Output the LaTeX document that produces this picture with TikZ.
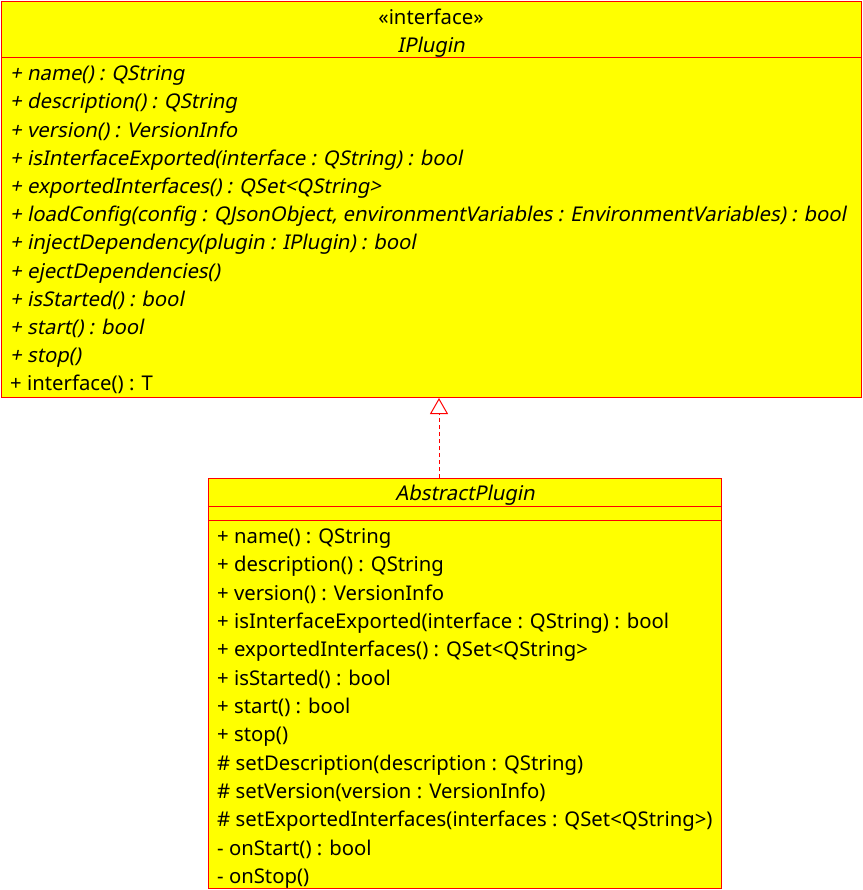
\documentclass[tikz,border=0pt]{standalone}
\usepackage{fontspec}
\setmainfont{Noto Sans}
\newfontfamily\obliquefont[FakeSlant=0.2]{Noto Sans}
\usetikzlibrary{arrows.meta}
\definecolor{umlfill}{RGB}{255,255,0}
\definecolor{umlline}{RGB}{255,0,0}
\tikzset{
  classbox/.style={draw=umlline, fill=umlfill, line width=1pt, inner sep=0pt, anchor=north west},
  member/.style={anchor=base west, inner sep=0pt, font=\fontsize{20.3}{22}\selectfont},
  imember/.style={member, font=\fontsize{20.3}{22}\obliquefont},
  title/.style={anchor=base, inner sep=0pt, font=\fontsize{20.3}{22}\selectfont},
  realize/.style={draw=umlline, line width=1pt, dashed, dash pattern=on 4pt off 3pt, -{Triangle[open, width=18pt, length=16pt, line width=1pt, fill=white]}}
}
\begin{document}
\begin{tikzpicture}[x=1pt,y=-1pt]
\useasboundingbox (0,0) rectangle (862,890);
% IPlugin
\node[classbox, minimum width=860pt, minimum height=396pt] (ip) at (1,1) {};
\draw[draw=umlline, line width=1pt] (1,58) coordinate (ipsepl) -- (861,58) coordinate (ipsepr);
\node[title] (ipst) at (431,24.5) {«interface»};
\node[title, font=\fontsize{20.3}{22}\obliquefont] (ipname) at (431,52.5) {IPlugin};
\node[imember] (m1) at (10,80.7) {+ name() : QString};
\node[imember] (m2) at (10,108.9) {+ description() : QString};
\node[imember] (m3) at (10,137.1) {+ version() : VersionInfo};
\node[imember] (m4) at (10,165.3) {+ isInterfaceExported(interface : QString) : bool};
\node[imember] (m5) at (10,193.5) {+ exportedInterfaces() : QSet<QString>};
\node[imember] (m6) at (10,221.7) {+ loadConfig(config : QJsonObject, environmentVariables : EnvironmentVariables) : bool};
\node[imember] (m7) at (10,249.9) {+ injectDependency(plugin : IPlugin) : bool};
\node[imember] (m8) at (10,278.1) {+ ejectDependencies()};
\node[imember] (m9) at (10,306.3) {+ isStarted() : bool};
\node[imember] (m10) at (10,334.5) {+ start() : bool};
\node[imember] (m11) at (10,362.7) {+ stop()};
\node[member] (m12) at (10,390.9) {+ interface() : T};
% AbstractPlugin
\node[classbox, minimum width=513pt, minimum height=410pt] (ap) at (208,478) {};
\draw[draw=umlline, line width=1pt] (208,506) -- (721,506);
\draw[draw=umlline, line width=1pt] (208,520) -- (721,520);
\node[title, font=\fontsize{20.3}{22}\obliquefont] (apname) at (465,500.5) {AbstractPlugin};
\node[member] (a1) at (217,543.5) {+ name() : QString};
\node[member] (a2) at (217,571.8) {+ description() : QString};
\node[member] (a3) at (217,600.1) {+ version() : VersionInfo};
\node[member] (a4) at (217,628.5) {+ isInterfaceExported(interface : QString) : bool};
\node[member] (a5) at (217,656.8) {+ exportedInterfaces() : QSet<QString>};
\node[member] (a6) at (217,685.1) {+ isStarted() : bool};
\node[member] (a7) at (217,713.5) {+ start() : bool};
\node[member] (a8) at (217,741.8) {+ stop()};
\node[member] (a9) at (217,770.1) {\# setDescription(description : QString)};
\node[member] (a10) at (217,798.5) {\# setVersion(version : VersionInfo)};
\node[member] (a11) at (217,826.8) {\# setExportedInterfaces(interfaces : QSet<QString>)};
\node[member] (a12) at (217,855.1) {- onStart() : bool};
\node[member] (a13) at (217,883.5) {- onStop()};
% realization
\draw[realize] (ap.north -| 439,0) -- (ip.south -| 439,0);
\end{tikzpicture}
\end{document}
